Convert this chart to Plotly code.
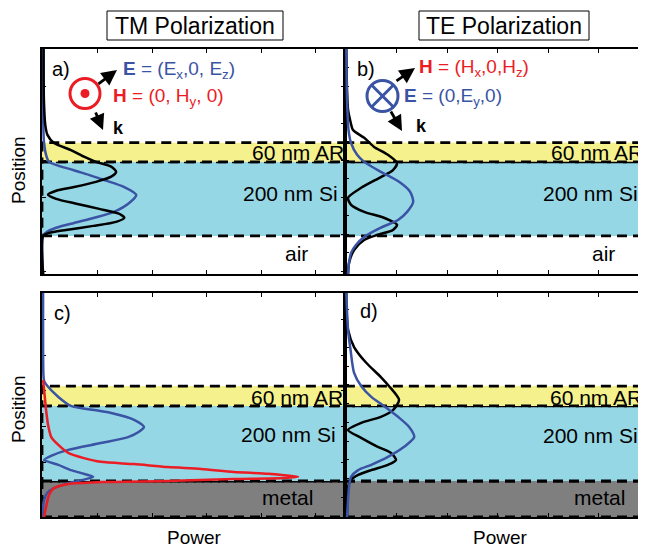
import plotly.graph_objects as go

# page body has an 8px margin: figure is drawn 8px in from the window's top-left
OFF = 8
W, H = 646 - OFF, 547 - OFF

# ---------------- data (position in nm, power in arbitrary units) ----------------
# a) TM, air below
a_black_pos = [505, 368, 300, 273, 251, 232, 214, 200, 187, 173, 160, 146, 132, 122, 111, 100, 87, 73, 60, 49, 38, 27, 16, 8, 0, -103]
a_black_pow = [0.01, 0.015, 0.04, 0.08, 0.20, 0.51, 0.75, 0.97, 1.25, 1.34, 1.25, 0.97, 0.57, 0.24, 0.09, 0.24, 0.61, 1.03, 1.39, 1.49, 1.34, 0.92, 0.42, 0.11, 0, 0]
a_blue_pos = [505, 287, 251, 219, 200, 178, 165, 151, 132, 111, 89, 65, 49, 35, 22, 11, 0, -103]
a_blue_pow = [0, 0.006, 0.018, 0.055, 0.11, 0.55, 0.84, 1.12, 1.49, 1.71, 1.58, 1.30, 0.94, 0.57, 0.24, 0.073, 0, 0]

# b) TE, air below
b_black_pos = [505, 395, 341, 314, 286, 265, 241, 219, 197, 178, 159, 130, 103, 84, 65, 49, 30, 16, 3, -11, -38, -73, -103]
b_black_pow = [0.006, 0.02, 0.04, 0.08, 0.14, 0.36, 0.55, 0.83, 1.01, 0.93, 0.69, 0.30, 0.04, 0.10, 0.36, 0.75, 1.01, 0.93, 0.63, 0.36, 0.16, 0.06, 0.04]
b_blue_pos = [505, 368, 286, 251, 219, 200, 173, 146, 119, 92, 65, 43, 22, -3, -24, -46, -73, -103]
b_blue_pow = [0.006, 0.02, 0.05, 0.10, 0.22, 0.36, 0.69, 1.05, 1.27, 1.33, 1.21, 1.03, 0.69, 0.36, 0.20, 0.10, 0.06, 0.04]

# c) TM, metal below
c_blue_pos = [501, 283, 267, 253, 224, 200, 189, 181, 163, 144, 131, 117, 101, 83, 69, 56, 43, 29, 21, 11, 3, -8, -19, -32, -51, -69, -96]
c_blue_pow = [0, 0.006, 0.018, 0.08, 0.28, 0.51, 0.94, 1.25, 1.67, 1.85, 1.76, 1.56, 1.06, 0.46, 0.18, 0.018, 0.28, 0.51, 0.70, 0.92, 0.73, 0.42, 0.20, 0.073, 0.018, 0, 0]
c_red_pos = [269, 229, 189, 149, 117, 96, 75, 61, 51, 45, 37, 32, 24, 19, 11, 8, 5, 0, -3, -8, -19, -37, -69, -96]
c_red_pow = [0, 0.028, 0.055, 0.092, 0.15, 0.28, 0.46, 0.75, 1.06, 1.67, 2.29, 2.90, 3.50, 4.13, 4.68, 4.42, 3.50, 2.29, 1.06, 0.46, 0.20, 0.11, 0.055, 0.018]

# d) TE, metal below
d_black_pos = [501, 456, 403, 357, 315, 277, 253, 216, 189, 171, 155, 136, 115, 91, 75, 56, 43, 29, 16, 3, -16, -96]
d_black_pow = [0.006, 0.01, 0.04, 0.16, 0.40, 0.69, 0.85, 1.05, 0.93, 0.69, 0.30, 0.04, 0.30, 0.63, 0.89, 0.99, 0.83, 0.50, 0.24, 0.10, 0.04, 0.02]
d_blue_pos = [501, 403, 349, 288, 253, 224, 200, 171, 144, 117, 91, 64, 43, 29, 11, -16, -51, -96]
d_blue_pow = [0.006, 0.04, 0.09, 0.16, 0.30, 0.50, 0.75, 1.03, 1.25, 1.35, 1.15, 0.83, 0.50, 0.24, 0.10, 0.06, 0.04, 0.02]

# layer stacks (bottom, top) in nm
top_layers = [("si", 0, 200), ("ar", 200, 252)]
bottom_layers = [("metal", -96, 0), ("si", 0, 200), ("ar", 200, 253)]
layer_labels_top = ["60 nm AR", "200 nm Si", "air"]
layer_labels_bottom = ["60 nm AR", "200 nm Si", "metal"]

# ---------------- styling ----------------
BLACK = "#000000"
BLUE = "#3a53a4"
RED = "#ec1c24"
FILL = {"ar": "#f5f18c", "si": "#96d7e5", "metal": "#7f7f7f"}
FONT = "Liberation Sans, Arial, sans-serif"


def fx(px):
    return (px - OFF) / W


def fy(py):
    return 1 - (py - OFF) / H


fig = go.Figure()

panels = [
    # key, xaxis, yaxis, x px domain, y px domain, xrange, yrange, tick0, dtick, top?
    ("a", "x", "y", (42, 345), (49, 274), [-0.02, 5.54], [-103, 505], 5, 100, True),
    ("b", "x2", "y2", (345, 644), (49, 274), [-0.02, 5.90], [-103, 505], 5, 50, True),
    ("c", "x3", "y3", (42, 345), (293, 517), [-0.02, 5.54], [-96, 501], -45, 95, False),
    ("d", "x4", "y4", (345, 644), (293, 517), [-0.02, 5.90], [-96, 501], 6, 50, False),
]

curves = {
    "a": [(a_blue_pow, a_blue_pos, BLUE), (a_black_pow, a_black_pos, BLACK)],
    "b": [(b_black_pow, b_black_pos, BLACK), (b_blue_pow, b_blue_pos, BLUE)],
    "c": [(c_blue_pow, c_blue_pos, BLUE), (c_red_pow, c_red_pos, RED)],
    "d": [(d_black_pow, d_black_pos, BLACK), (d_blue_pow, d_blue_pos, BLUE)],
}

shapes = []
annotations = []

for key, xa, ya, xd, yd, xr, yr, t0, dt, top in panels:
    xname = "xaxis" + xa[1:]
    yname = "yaxis" + ya[1:]
    fig.update_layout(**{
        xname: dict(domain=[fx(xd[0]), min(fx(xd[1]), 1)], range=xr, anchor=ya,
                    showticklabels=False, ticks="inside", ticklen=4, tickwidth=1,
                    tickcolor=BLACK, tick0=0, dtick=1, showline=True, linecolor=BLACK,
                    linewidth=1.5, mirror="ticks", showgrid=False, zeroline=False,
                    layer="below traces"),
        yname: dict(domain=[fy(yd[1]), fy(yd[0])], range=yr, anchor=xa,
                    showticklabels=False, ticks="inside", ticklen=4, tickwidth=1,
                    tickcolor=BLACK, tick0=t0, dtick=dt, showline=True, linecolor=BLACK,
                    linewidth=1.5, mirror="ticks", showgrid=False, zeroline=False,
                    layer="below traces"),
    })
    layers = top_layers if top else bottom_layers
    for name, y0, y1 in layers:
        shapes.append(dict(type="rect", xref=xa + " domain", yref=ya, x0=0, x1=1, y0=y0, y1=y1,
                           fillcolor=FILL[name], line=dict(color=BLACK, width=2.8, dash="10px,6px"),
                           layer="below"))
    for xs, ys, col in curves[key]:
        fig.add_trace(go.Scatter(x=xs, y=ys, mode="lines", xaxis=xa, yaxis=ya,
                                 line=dict(color=col, width=2.5, shape="spline", smoothing=0.7),
                                 hoverinfo="skip", showlegend=False))


def text(px, py, s, size=21, color=BLACK, xanchor="center", angle=0):
    annotations.append(dict(x=fx(px), y=fy(py), xref="paper", yref="paper", text=s,
                            showarrow=False, xanchor=xanchor, yanchor="middle", textangle=angle,
                            font=dict(family=FONT, size=size, color=color)))


def arrow(tail, tip):
    annotations.append(dict(x=fx(tip[0]), y=fy(tip[1]), xref="paper", yref="paper",
                            ax=tail[0] - tip[0], ay=tail[1] - tip[1], text="", showarrow=True,
                            arrowhead=2, arrowsize=1.1, arrowwidth=2.8, arrowcolor=BLACK,
                            standoff=0, startstandoff=0))


# titles with boxes
for (x0, x1), label in [((107, 283), "TM Polarization"), ((419, 589), "TE Polarization")]:
    shapes.append(dict(type="rect", xref="paper", yref="paper", x0=fx(x0), x1=fx(x1),
                       y0=fy(40), y1=fy(11), line=dict(color=BLACK, width=1), fillcolor="white"))
    text((x0 + x1) / 2, 26, label, size=23)

# panel letters
text(50, 69, "a)", size=20, xanchor="left")
text(355, 69, "b)", size=20, xanchor="left")
text(52, 313, "c)", size=20, xanchor="left")
text(358, 311, "d)", size=20, xanchor="left")

# layer labels
text(346, 152, layer_labels_top[0], xanchor="right")
text(340, 193, layer_labels_top[1], xanchor="right")
text(296, 253, layer_labels_top[2])
text(645, 152, layer_labels_top[0], xanchor="right")
text(640, 193, layer_labels_top[1], xanchor="right")
text(603, 253, layer_labels_top[2])
text(345, 397, layer_labels_bottom[0], xanchor="right")
text(338, 434, layer_labels_bottom[1], xanchor="right")
text(287, 497, layer_labels_bottom[2])
text(644, 397, layer_labels_bottom[0], xanchor="right")
text(640, 435, layer_labels_bottom[1], xanchor="right")
text(599, 497, layer_labels_bottom[2])

# axis titles
text(18, 170, "Position", size=19, angle=-90)
text(18, 409, "Position", size=19, angle=-90)
text(195, 537, "Power", size=19)
text(500, 537, "Power", size=19)

# field annotations panel a (TM)
shapes.append(dict(type="circle", xref="paper", yref="paper", x0=fx(70), x1=fx(100),
                   y0=fy(108.5), y1=fy(78.5), line=dict(color=RED, width=3)))
shapes.append(dict(type="circle", xref="paper", yref="paper", x0=fx(80.5), x1=fx(89.5),
                   y0=fy(98), y1=fy(89), line=dict(color=RED, width=0), fillcolor=RED))
arrow((97, 85), (117, 70))
arrow((95, 111), (103, 130))
text(118, 128, "<b>k</b>", size=18)
text(121, 70, "<b>E</b> = (E<sub>x</sub>,0, E<sub>z</sub>)", size=19, color=BLUE, xanchor="left")
text(111, 97, "<b>H</b> = (0, H<sub>y</sub>, 0)", size=19, color=RED, xanchor="left")

# field annotations panel b (TE)
cx, cy, r = 382.5, 96, 15.5
shapes.append(dict(type="circle", xref="paper", yref="paper", x0=fx(cx - r), x1=fx(cx + r),
                   y0=fy(cy + r), y1=fy(cy - r), line=dict(color=BLUE, width=3)))
d = r * 0.7071
shapes.append(dict(type="line", xref="paper", yref="paper", x0=fx(cx - d), x1=fx(cx + d),
                   y0=fy(cy - d), y1=fy(cy + d), line=dict(color=BLUE, width=3)))
shapes.append(dict(type="line", xref="paper", yref="paper", x0=fx(cx - d), x1=fx(cx + d),
                   y0=fy(cy + d), y1=fy(cy - d), line=dict(color=BLUE, width=3)))
arrow((395, 82), (415, 68))
arrow((390, 110), (402, 131))
text(421, 126, "<b>k</b>", size=18)
text(417, 68, "<b>H</b> = (H<sub>x</sub>,0,H<sub>z</sub>)", size=19, color=RED, xanchor="left")
text(402, 97, "<b>E</b> = (0,E<sub>y</sub>,0)", size=19, color=BLUE, xanchor="left")

fig.update_layout(width=W, height=H, margin=dict(l=0, r=0, t=0, b=0),
                  paper_bgcolor="white", plot_bgcolor="white",
                  shapes=shapes, annotations=annotations, showlegend=False,
                  font=dict(family=FONT))

fig.write_html("out.html")
